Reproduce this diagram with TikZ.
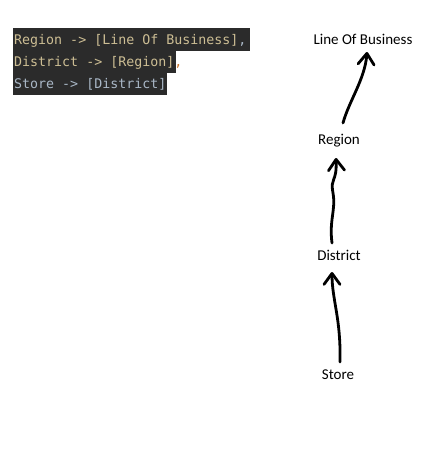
\documentclass[tikz,border=0pt]{standalone}
\usepackage{fontspec}
\newfontfamily\codefont{DejaVu Sans Mono}
\newfontfamily\labfont{Carlito}
\usetikzlibrary{arrows.meta,calc}
\definecolor{codebg}{HTML}{2B2B2B}
\definecolor{codetan}{HTML}{CDBE94}
\definecolor{codeblue}{HTML}{A9B7C6}
\definecolor{codeorange}{HTML}{CC7832}
\tikzset{
  codeline/.style={anchor=base west,inner sep=0pt,font=\codefont\fontsize{13.3}{15}\selectfont},
  lab/.style={inner sep=0pt,font=\labfont\fontsize{15}{17}\selectfont,text=black},
  hand/.style={line width=2.8pt,line cap=round,line join=round,
    -{Straight Barb[length=11pt,width=16pt,line cap=round,line join=round]}},
}
\begin{document}
\begin{tikzpicture}[x=1pt,y=-1pt]
\useasboundingbox (0,0) rectangle (435,471);
\fill[white] (0,0) rectangle (435,471);
% code block backgrounds
\fill[codebg] (13,28) rectangle (250,51);
\fill[codebg] (13,51) rectangle (176,73);
\fill[codebg] (13,73) rectangle (167,95);
\node[codeline,text=codetan] (c1) at (14,44) {Region -> [Line Of Business]\textcolor{codeblue}{,}};
\node[codeline,text=codetan] (c2) at (14,66) {District -> [Region]\textcolor{codeorange}{,}};
\node[codeline,text=codeblue] (c3) at (14,88) {Store -> [District]};
% hierarchy labels
\node[lab] (lob) at (363,39) {Line Of Business};
\node[lab] (region) at (339,141) {Region};
\node[lab] (district) at (339,255) {District};
\node[lab] (store) at (338,375) {Store};
% hand-drawn arrows
\draw[hand] ($(store.center)+(2,-13)$) .. controls ($(store.center)+(3,-57)$) and ($(district.center)+(-7,45)$) .. ($(district.center)+(-7,17)$);
\draw[hand] ($(district.center)+(-7,-12)$) .. controls ($(district.center)+(-10,-35)$) and ($(district.center)+(-3,-45)$) .. ($(district.center)+(-6,-62)$) .. controls ($(district.center)+(-9,-78)$) and ($(region.center)+(-2,42)$) .. ($(region.center)+(-3,17)$);
\draw[hand] ($(region.center)+(4,-18)$) .. controls ($(region.center)+(10,-40)$) and ($(lob.center)+(2,40)$) .. ($(lob.center)+(4,13)$);
\end{tikzpicture}
\end{document}
